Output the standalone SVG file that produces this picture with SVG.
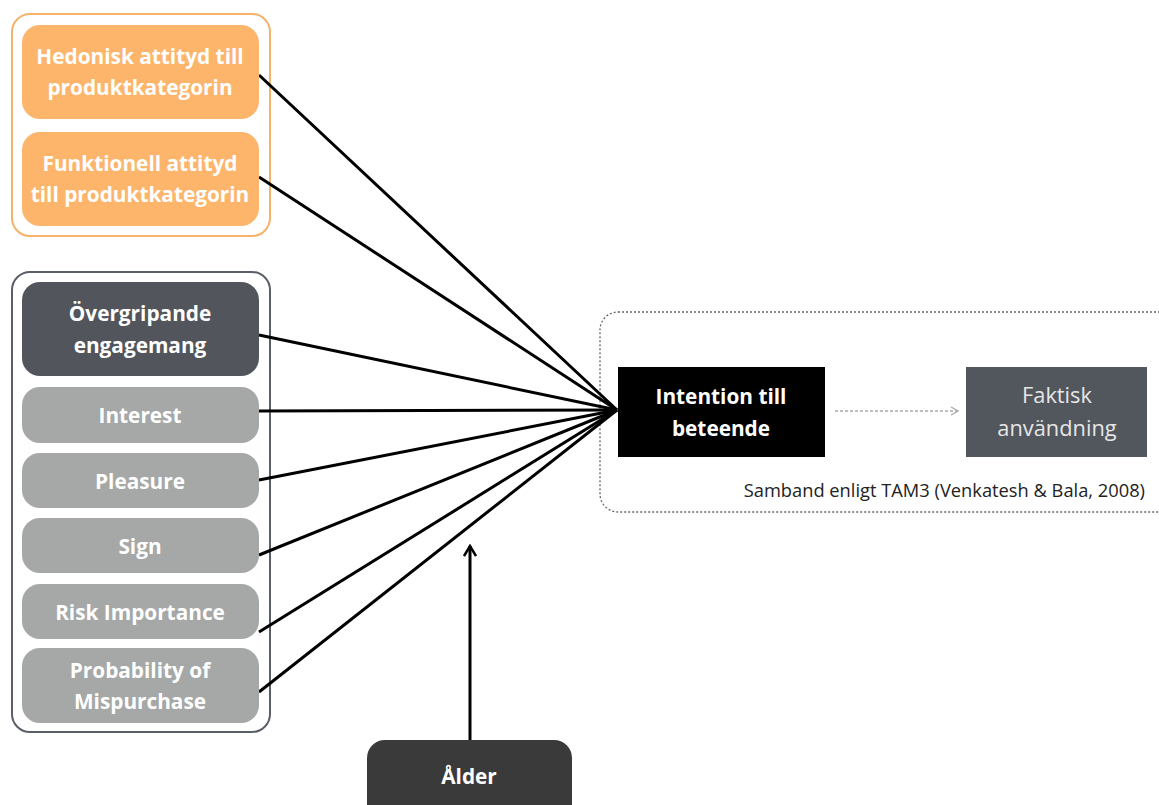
<svg xmlns="http://www.w3.org/2000/svg" width="1159" height="805" viewBox="0 0 1159 805">
<defs>
<style>
.t{font-family:"Open Sans","Liberation Sans",sans-serif;font-weight:bold;font-size:20.8px;fill:#fff;text-anchor:middle}
.ln{stroke:#000;stroke-width:3;fill:none}
.or{fill:#fdb56c}
.gr{fill:#a5a8a6}
</style>
<marker id="ah" viewBox="0 0 14 14" refX="12" refY="7" markerWidth="14" markerHeight="14" markerUnits="userSpaceOnUse" orient="auto">
<path d="M2,1 L12,7 L2,13" fill="none" stroke="#000" stroke-width="2.5"/>
</marker>
<marker id="ah2" viewBox="0 0 10 10" refX="9" refY="5" markerWidth="10" markerHeight="10" markerUnits="userSpaceOnUse" orient="auto">
<path d="M2,1 L9,5 L2,9" fill="none" stroke="#aaa" stroke-width="1.3"/>
</marker>
</defs>
<rect width="1159" height="805" fill="#fff"/>
<g id="groups">
<rect x="12" y="14" width="258" height="222" rx="18" fill="none" stroke="#f4b26a" stroke-width="2"/>
<rect x="12" y="272" width="258" height="460" rx="18" fill="none" stroke="#5a5e66" stroke-width="2"/>
<rect x="600" y="312" width="580" height="200" rx="18" fill="none" stroke="#666" stroke-width="1.3" stroke-dasharray="2,2"/>
</g>
<g id="connectors">
<line class="ln" x1="259" y1="75" x2="617" y2="410"/>
<line class="ln" x1="259" y1="177" x2="617" y2="410"/>
<line class="ln" x1="259" y1="335" x2="617" y2="410"/>
<line class="ln" x1="259" y1="411" x2="617" y2="410"/>
<line class="ln" x1="259" y1="480" x2="617" y2="410"/>
<line class="ln" x1="259" y1="555" x2="617" y2="410"/>
<line class="ln" x1="259" y1="632" x2="617" y2="410"/>
<line class="ln" x1="259" y1="692" x2="617" y2="410"/>
<line class="ln" x1="470" y1="742" x2="470" y2="546" marker-end="url(#ah)"/>
<line x1="835" y1="411" x2="958" y2="411" stroke="#aaa" stroke-width="1.3" stroke-dasharray="3,2" marker-end="url(#ah2)"/>
</g>
<g id="hedonisk"><rect class="or" x="22" y="25" width="237" height="94" rx="18"/><text class="t" x="140" y="64">Hedonisk attityd till</text><text class="t" x="140" y="95">produktkategorin</text></g>
<g id="funktionell"><rect class="or" x="22" y="132" width="237" height="94" rx="18"/><text class="t" x="140" y="171">Funktionell attityd</text><text class="t" x="140" y="202">till produktkategorin</text></g>
<g id="overgripande"><rect x="22" y="282" width="237" height="94" rx="18" fill="#52555c"/><text class="t" x="140" y="321">Övergripande</text><text class="t" x="140" y="353">engagemang</text></g>
<g id="interest"><rect class="gr" x="22" y="387" width="237" height="56" rx="18"/><text class="t" x="140" y="423">Interest</text></g>
<g id="pleasure"><rect class="gr" x="22" y="453" width="237" height="55" rx="18"/><text class="t" x="140" y="489">Pleasure</text></g>
<g id="sign"><rect class="gr" x="22" y="518" width="237" height="55" rx="18"/><text class="t" x="140" y="554">Sign</text></g>
<g id="risk"><rect class="gr" x="22" y="584" width="237" height="55" rx="18"/><text class="t" x="140" y="620">Risk Importance</text></g>
<g id="probability"><rect class="gr" x="22" y="648" width="237" height="75" rx="18"/><text class="t" x="140" y="678">Probability of</text><text class="t" x="140" y="709">Mispurchase</text></g>
<g id="intention"><rect x="618" y="367" width="207" height="90" fill="#000"/><text class="t" x="721" y="404">Intention till</text><text class="t" x="721" y="436">beteende</text></g>
<g id="faktisk"><rect x="966" y="367" width="181" height="90" fill="#52565d"/><text class="t" x="1057" y="403" style="font-weight:normal;fill:#e6e6e6;font-size:21.8px">Faktisk</text><text class="t" x="1057" y="436" style="font-weight:normal;fill:#e6e6e6;font-size:21.8px">användning</text></g>
<g id="caption"><text x="1145" y="497" font-family="Open Sans, Liberation Sans, sans-serif" font-size="18.3" fill="#222" text-anchor="end">Samband enligt TAM3 (Venkatesh &amp; Bala, 2008)</text></g>
<g id="alder"><rect x="367" y="740" width="205" height="90" rx="18" fill="#3a3a3a"/><text class="t" x="469" y="784">Ålder</text></g>
</svg>
